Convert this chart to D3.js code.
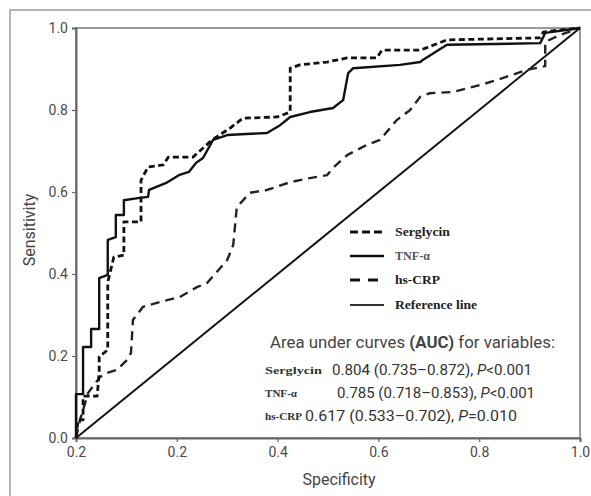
<!DOCTYPE html>
<html>
<head>
<meta charset="utf-8">
<script src="https://cdn.jsdelivr.net/npm/d3@7"></script>
<style>
  html, body { margin: 0; padding: 0; background: #fff; }
  svg { display: block; }
</style>
</head>
<body>
<svg id="chart" width="591" height="496"></svg>
<script>
// ---------- DATA ----------
const xTickValues = [0, 0.2, 0.4, 0.6, 0.8, 1.0];
const xTickLabels = ["0.2", "0.2", "0.4", "0.6", "0.8", "1.0"];
const yTickValues = [0, 0.2, 0.4, 0.6, 0.8, 1.0];
const yTickLabels = ["0.0", "0.2", "0.4", "0.6", "0.8", "1.0"];

const serglycin = [
  [0,0],[0.004,0.044],[0.014,0.044],[0.014,0.102],[0.042,0.102],[0.046,0.161],
  [0.046,0.198],[0.063,0.215],[0.063,0.380],[0.075,0.441],[0.095,0.446],
  [0.095,0.527],[0.129,0.527],[0.129,0.629],[0.143,0.661],[0.173,0.666],
  [0.183,0.685],[0.232,0.685],[0.270,0.727],[0.306,0.756],[0.331,0.780],
  [0.399,0.783],[0.425,0.795],[0.425,0.902],[0.444,0.910],[0.498,0.917],
  [0.538,0.927],[0.597,0.927],[0.607,0.946],[0.683,0.946],[0.736,0.971],
  [0.921,0.976],[0.927,0.990],[0.960,0.995],[1,1]
];
const tnf = [
  [0,0],[0,0.107],[0.014,0.107],[0.014,0.222],[0.030,0.222],[0.030,0.266],
  [0.046,0.266],[0.046,0.390],[0.063,0.398],[0.063,0.483],[0.079,0.490],
  [0.079,0.544],[0.095,0.544],[0.095,0.580],[0.123,0.585],[0.143,0.588],
  [0.145,0.605],[0.179,0.622],[0.204,0.641],[0.224,0.649],[0.238,0.671],
  [0.252,0.683],[0.272,0.727],[0.300,0.739],[0.379,0.744],[0.405,0.763],
  [0.425,0.783],[0.464,0.795],[0.510,0.805],[0.530,0.824],[0.540,0.890],
  [0.550,0.902],[0.643,0.910],[0.683,0.917],[0.688,0.922],[0.736,0.959],
  [0.921,0.963],[0.931,0.988],[1,1]
];
const hscrp = [
  [0,0],[0.008,0.044],[0.014,0.068],[0.024,0.110],[0.048,0.149],[0.062,0.159],
  [0.081,0.166],[0.101,0.190],[0.109,0.207],[0.111,0.246],[0.113,0.288],
  [0.133,0.320],[0.167,0.332],[0.206,0.344],[0.240,0.368],[0.260,0.378],
  [0.300,0.434],[0.312,0.471],[0.319,0.563],[0.345,0.598],[0.379,0.605],
  [0.425,0.624],[0.464,0.634],[0.498,0.641],[0.510,0.659],[0.538,0.690],
  [0.577,0.715],[0.603,0.727],[0.637,0.776],[0.663,0.800],[0.683,0.832],
  [0.702,0.841],[0.748,0.844],[0.802,0.861],[0.835,0.873],[0.895,0.898],
  [0.931,0.907],[0.931,0.966],[0.960,0.983],[1,1]
];
const reference = [[0,0],[1,1]];

const legendLabels = ["Serglycin", "TNF-α", "hs-CRP", "Reference line"];
const aucTitle = ["Area under curves ", "(AUC)", " for variables:"];
const aucNames = ["Serglycin", "TNF-α", "hs-CRP"];
const aucValues = ["0.804 (0.735–0.872), ", "0.785 (0.718–0.853), ", "0.617 (0.533–0.702), "];
const aucP = [["P", "<0.001"], ["P", "<0.001"], ["P", "=0.010"]];

// ---------- LAYOUT ----------
const svg = d3.select("#chart");
const L = 76, R = 580, T = 28, B = 438;
const x = d3.scaleLinear().domain([0, 1]).range([L, R]);
const y = d3.scaleLinear().domain([0, 1]).range([B, T]);

// outer frame
svg.append("rect").attr("x", 10).attr("y", 10).attr("width", 620).attr("height", 520)
  .attr("fill", "none").attr("stroke", "#b5b5b5").attr("stroke-width", 2);

// plot box
svg.append("rect").attr("x", L).attr("y", T).attr("width", R - L).attr("height", B - T)
  .attr("fill", "none").attr("stroke", "#9a9a9a").attr("stroke-width", 2);

// axes
const tickFont = "Roboto, 'Liberation Sans', sans-serif";
const xAxis = d3.axisBottom(x).tickValues(xTickValues).tickSize(4).tickPadding(5)
  .tickFormat((d, i) => xTickLabels[i]);
const gx = svg.append("g").attr("transform", `translate(0,${B})`).call(xAxis);
const yAxis = d3.axisLeft(y).tickValues(yTickValues).tickSize(4).tickPadding(4)
  .tickFormat((d, i) => yTickLabels[i]);
const gy = svg.append("g").attr("transform", `translate(${L},0)`).call(yAxis);
[gx, gy].forEach(g => {
  g.select(".domain").attr("stroke", "#666").attr("stroke-width", 2);
  g.selectAll(".tick line").attr("stroke", "#666").attr("stroke-width", 1.2);
  g.selectAll(".tick text").attr("fill", "#4a4a4a").style("font-family", tickFont)
    .style("font-size", "14px");
});

// axis titles
svg.append("text").attr("x", 339).attr("y", 485).attr("text-anchor", "middle")
  .style("font-family", tickFont).style("font-size", "16px").attr("fill", "#444")
  .text("Specificity");
svg.append("text").attr("transform", "translate(35,230) rotate(-90)").attr("text-anchor", "middle")
  .style("font-family", tickFont).style("font-size", "16px").attr("fill", "#444")
  .text("Sensitivity");

// curves
const line = d3.line().x(d => x(d[0])).y(d => y(d[1]));
const styles = [
  { data: serglycin, w: 2.8, dash: "6,3.5", color: "#111" },
  { data: tnf, w: 2.4, dash: null, color: "#111" },
  { data: hscrp, w: 2.4, dash: "9,6", color: "#222" },
  { data: reference, w: 2, dash: null, color: "#111" }
];
styles.slice().reverse().forEach(s => {
  svg.append("path").datum(s.data).attr("d", line).attr("fill", "none")
    .attr("stroke", s.color).attr("stroke-width", s.w)
    .attr("stroke-dasharray", s.dash).attr("stroke-linejoin", "round");
});

// legend
const legY = [232, 256, 280, 305];
const legW = [55, 35, 45, 82];
const legStyles = [
  { w: 3, dash: "8,4", color: "#111" },
  { w: 2.6, dash: null, color: "#111" },
  { w: 3, dash: "10,8", color: "#111" },
  { w: 1.8, dash: null, color: "#333" }
];
const legColors = ["#222", "#555", "#222", "#222"];
legendLabels.forEach((lab, i) => {
  svg.append("line").attr("x1", 350).attr("x2", 384).attr("y1", legY[i]).attr("y2", legY[i])
    .attr("stroke", legStyles[i].color).attr("stroke-width", legStyles[i].w)
    .attr("stroke-dasharray", legStyles[i].dash);
  svg.append("text").attr("x", 395).attr("y", legY[i] + 4)
    .attr("textLength", legW[i]).attr("lengthAdjust", "spacingAndGlyphs")
    .style("font-family", "'Liberation Serif', 'DejaVu Serif', serif").style("font-weight", "bold")
    .style("font-size", "12.5px").attr("fill", legColors[i]).text(lab);
});

// AUC block
const sans = "Roboto, 'Liberation Sans', sans-serif";
const title = svg.append("text").attr("x", 270).attr("y", 348)
  .attr("textLength", 285).attr("lengthAdjust", "spacingAndGlyphs")
  .style("font-family", sans).style("font-size", "17px").attr("fill", "#444");
title.append("tspan").text(aucTitle[0]);
title.append("tspan").style("font-weight", "bold").text(aucTitle[1]);
title.append("tspan").text(aucTitle[2]);

const rowY = [375, 398, 421];
const valX = [332, 337, 305];
const valW = [200, 198, 212];
const nameW = [57, 32, 37];
aucNames.forEach((n, i) => {
  svg.append("text").attr("x", 265).attr("y", rowY[i] - 1)
    .attr("textLength", nameW[i]).attr("lengthAdjust", "spacingAndGlyphs")
    .style("font-family", "'Liberation Serif', 'DejaVu Serif', serif").style("font-weight", "bold")
    .style("font-size", "11px").attr("fill", "#333").text(n);
  const t = svg.append("text").attr("x", valX[i]).attr("y", rowY[i])
    .attr("textLength", valW[i]).attr("lengthAdjust", "spacingAndGlyphs")
    .style("font-family", sans).style("font-size", "15px").attr("fill", "#333");
  t.append("tspan").text(aucValues[i]);
  t.append("tspan").style("font-style", "italic").text(aucP[i][0]);
  t.append("tspan").text(aucP[i][1]);
});
</script>
</body>
</html>
